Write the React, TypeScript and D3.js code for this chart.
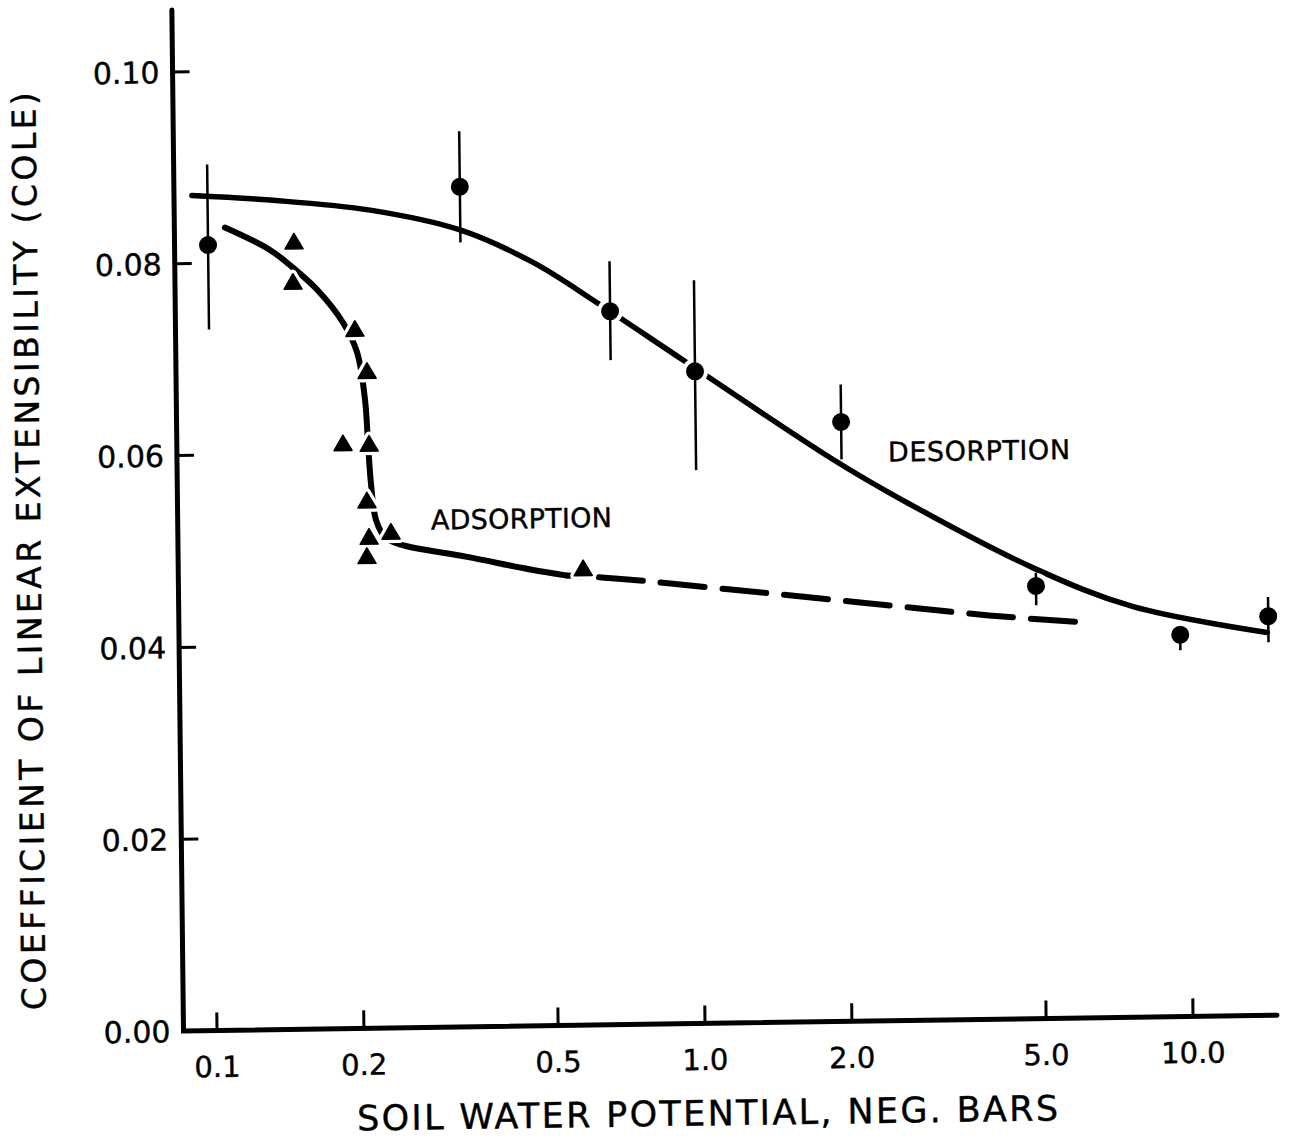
import React from 'react';
import * as d3 from 'd3';

// ---- tick values / labels ----
const xTicks = [0.1, 0.2, 0.5, 1, 2, 5, 10];
const xTickLabels = ['0.1', '0.2', '0.5', '1.0', '2.0', '5.0', '10.0'];
const yTicks = [0, 0.02, 0.04, 0.06, 0.08, 0.1];
const yTickLabels = ['0.00', '0.02', '0.04', '0.06', '0.08', '0.10'];

// ---- desorption measurements (circles with error bars) ----
const desX = [0.1, 0.329, 0.664, 0.988, 1.963, 4.88, 9.61, 14.57];
const desY = [0.0819, 0.0876, 0.0744, 0.068, 0.0625, 0.0451, 0.0398, 0.0416];
const desLo = [0.0731, 0.0818, 0.0693, 0.0577, 0.0586, 0.0431, 0.0382, 0.0389];
const desHi = [0.0903, 0.0934, 0.0796, 0.0775, 0.0664, 0.0465, 0.0405, 0.0436];

// ---- desorption fitted curve ----
const desCurveX = [0.0929, 0.1343, 0.2152, 0.3285, 0.4629, 0.6248, 0.934, 1.886, 2.583, 4.82, 7.71, 14.49];
const desCurveY = [0.0871, 0.0865, 0.0853, 0.0831, 0.0796, 0.0753, 0.0692, 0.0586, 0.0544, 0.047, 0.0428, 0.0399];

// ---- adsorption measurements (triangles) ----
const adsX = [0.15, 0.149, 0.199, 0.2103, 0.187, 0.2115, 0.2087, 0.2334, 0.2104, 0.2081, 0.5768];
const adsY = [0.082, 0.0778, 0.0728, 0.0684, 0.0609, 0.0608, 0.0549, 0.0516, 0.0511, 0.0491, 0.0475];

// ---- adsorption curve: solid part, then dashed part ----
const adsSolidX = [0.1084, 0.1339, 0.1492, 0.1668, 0.1883, 0.2008, 0.208, 0.2105, 0.213, 0.2176, 0.2268, 0.2433, 0.3337, 0.4553, 0.5344];
const adsSolidY = [0.0837, 0.0813, 0.0794, 0.0771, 0.0736, 0.0705, 0.0655, 0.0608, 0.0567, 0.053, 0.0512, 0.0504, 0.049, 0.04754, 0.0469];
const adsDashX = [0.5344, 0.68, 1.157, 2.177, 3.905, 6.23];
const adsDashY = [0.0469, 0.0465, 0.0452, 0.0436, 0.04211, 0.0412];

// ---- text ----
const xTitle = 'SOIL WATER POTENTIAL, NEG. BARS';
const yTitle = 'COEFFICIENT OF LINEAR EXTENSIBILITY (COLE)';
const desLabel = { text: 'DESORPTION', x: 2.445, y: 0.0583 };
const adsLabel = { text: 'ADSORPTION', x: 0.282, y: 0.0519 };

const W = 1290;
const H = 1145;
const OX = 183.5;
const OY = 1031;
const X_END = 1277;
const Y_TOP = 10;
// slight skew of the scanned figure
const SKX = -0.0145;
const SKY = 0.0114;
const FONT = '"DejaVu Sans", Verdana, sans-serif';

export default function App() {
  const xS = d3.scaleLog().domain([0.1, 10]).range([217, 1193]);
  const yS = d3.scaleLinear().domain([0, 0.1]).range([OY, 72]);

  const mk = (curve: d3.CurveFactory) =>
    d3
      .line<[number, number]>()
      .x((d) => xS(d[0]))
      .y((d) => yS(d[1]))
      .curve(curve);

  const zip = (xs: number[], ys: number[]) => xs.map((x, i) => [x, ys[i]] as [number, number]);

  const desPath = mk(d3.curveCatmullRom.alpha(0.5))(zip(desCurveX, desCurveY));
  const adsSolidPath = mk(d3.curveCatmullRom.alpha(0.5))(zip(adsSolidX, adsSolidY));
  const adsDashPath = mk(d3.curveCatmullRom.alpha(0.5))(zip(adsDashX, adsDashY));

  const tri = 'M0,-9.5 L9,6 L-9,6 Z';
  const matrix = `matrix(1, ${SKX}, ${SKY}, 1, ${-SKY * OY}, ${-SKX * OX})`;

  const textProps = { fontFamily: FONT, fill: '#000', stroke: '#000', strokeWidth: 0.4 };

  return (
    <svg
      width={W}
      height={H}
      viewBox={`0 0 ${W} ${H}`}
      style={{ position: 'absolute', left: 0, top: 0, display: 'block', background: '#fff' }}
    >
      <rect x={0} y={0} width={W} height={H} fill="#fff" />
      <g transform={matrix}>
        {/* axes */}
        <path
          d={`M${OX},${Y_TOP} L${OX},${OY} L${X_END},${OY}`}
          fill="none"
          stroke="#000"
          strokeWidth={5}
          strokeLinecap="round"
          strokeLinejoin="miter"
        />
        {yTicks.map((t, i) =>
          t === 0 ? null : (
            <line key={'yt' + i} x1={OX} x2={OX + 17} y1={yS(t)} y2={yS(t)} stroke="#000" strokeWidth={3} />
          )
        )}
        {xTicks.map((t, i) => (
          <line key={'xt' + i} x1={xS(t)} x2={xS(t)} y1={OY} y2={OY - 18} stroke="#000" strokeWidth={3} />
        ))}
        {yTicks.map((t, i) => (
          <text key={'yl' + i} x={OX - 13} y={yS(t) + 11} textAnchor="end" fontSize={30} {...textProps}>
            {yTickLabels[i]}
          </text>
        ))}
        {xTicks.map((t, i) => (
          <text key={'xl' + i} x={xS(t)} y={OY + 46.5} textAnchor="middle" fontSize={29} {...textProps}>
            {xTickLabels[i]}
          </text>
        ))}

        {/* curves */}
        <path d={desPath || ''} fill="none" stroke="#000" strokeWidth={5.5} strokeLinecap="round" />
        <path d={adsSolidPath || ''} fill="none" stroke="#000" strokeWidth={6} strokeLinecap="round" />
        <path
          d={adsDashPath || ''}
          fill="none"
          stroke="#000"
          strokeWidth={6}
          strokeLinecap="round"
          strokeDasharray="44 18"
          strokeDashoffset={30}
        />

        {/* white halos that break the lines around the markers */}
        {desX.map((x, i) => (
          <circle key={'dh' + i} cx={xS(x)} cy={yS(desY[i])} r={13} fill="#fff" />
        ))}
        {adsX.map((x, i) => (
          <path
            key={'ah' + i}
            d={tri}
            transform={`translate(${xS(x)},${yS(adsY[i])})`}
            fill="#fff"
            stroke="#fff"
            strokeWidth={8}
            strokeLinejoin="round"
          />
        ))}

        {/* error bars */}
        {desX.map((x, i) => (
          <line
            key={'eb' + i}
            x1={xS(x)}
            x2={xS(x)}
            y1={yS(desLo[i])}
            y2={yS(desHi[i])}
            stroke="#000"
            strokeWidth={2.5}
          />
        ))}

        {/* markers */}
        {desX.map((x, i) => (
          <circle key={'dc' + i} cx={xS(x)} cy={yS(desY[i])} r={9} fill="#000" />
        ))}
        {adsX.map((x, i) => (
          <path
            key={'at' + i}
            d={tri}
            transform={`translate(${xS(x)},${yS(adsY[i])})`}
            fill="#000"
            stroke="#000"
            strokeWidth={1.5}
            strokeLinejoin="round"
          />
        ))}

        {/* curve labels */}
        <text
          x={xS(desLabel.x)}
          y={yS(desLabel.y)}
          fontSize={27}
          textLength={182}
          lengthAdjust="spacing"
          {...textProps}
        >
          {desLabel.text}
        </text>
        <text
          x={xS(adsLabel.x)}
          y={yS(adsLabel.y)}
          fontSize={27}
          textLength={181}
          lengthAdjust="spacing"
          {...textProps}
        >
          {adsLabel.text}
        </text>

        {/* axis titles */}
        <text x={356} y={1133} fontSize={35} textLength={701} lengthAdjust="spacing" {...textProps}>
          {xTitle}
        </text>
        <text
          transform="translate(46,549) rotate(-90)"
          textAnchor="middle"
          fontSize={33}
          textLength={918}
          lengthAdjust="spacing"
          {...textProps}
        >
          {yTitle}
        </text>
      </g>
    </svg>
  );
}
